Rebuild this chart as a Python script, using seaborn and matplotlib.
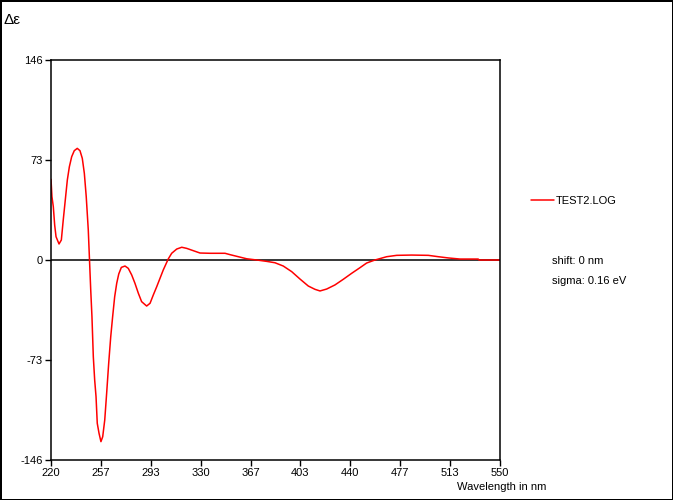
import numpy as np
import pandas as pd
import matplotlib
matplotlib.use('Agg')
import matplotlib.pyplot as plt
import seaborn as sns

# CD spectrum (wavelength in nm, delta epsilon)
wavelength = [220.0, 220.7, 221.7, 222.7, 223.7, 225.9, 227.6, 229.0, 230.5, 232.0,
              233.5, 235.2, 237.1, 239.3, 241.3, 243.0, 244.5, 245.9, 247.4, 248.3,
              249.2, 250.1, 251.1, 252.1, 253.1, 254.0, 255.3, 256.7, 258.0, 259.5,
              260.9, 262.4, 263.9, 265.3, 266.8, 268.3, 269.8, 271.7, 274.4, 276.8,
              279.3, 281.7, 284.2, 286.6, 290.3, 292.8, 295.2, 297.7, 300.1, 302.5,
              306.2, 308.7, 312.4, 316.1, 319.7, 324.6, 329.5, 336.9, 347.9, 351.6,
              357.7, 363.8, 371.2, 378.5, 384.6, 390.7, 396.9, 403.0, 409.1, 414.0,
              417.7, 422.6, 428.7, 434.8, 441.0, 447.1, 452.0, 458.1, 466.7, 474.1,
              485.0, 497.3, 504.7, 512.0, 520.6, 534.0, 534.5, 550.0]
delta_eps = [58.9, 46.2, 38.9, 25.5, 17.0, 11.7, 14.6, 29.2, 43.8, 58.4,
             68.1, 75.4, 79.8, 81.5, 79.8, 74.2, 63.3, 46.2, 21.9, 0.0,
             -21.9, -41.4, -70.6, -87.6, -99.8, -119.2, -126.5, -132.6, -129.0, -116.8,
             -97.3, -75.4, -56.0, -41.4, -26.8, -17.0, -10.2, -5.4, -4.4, -6.1,
             -10.9, -17.0, -24.3, -30.4, -33.6, -31.6, -25.5, -19.5, -13.4, -7.3,
             0.8, 4.9, 8.0, 9.3, 8.5, 6.8, 5.1, 4.9, 4.9, 3.9,
             2.4, 0.9, 0.0, -1.0, -2.0, -4.4, -8.5, -13.9, -19.0, -21.4,
             -22.6, -21.2, -18.2, -14.1, -9.7, -5.6, -2.2, 0.0, 2.4, 3.4,
             3.6, 3.4, 2.4, 1.5, 0.7, 0.7, 0.0, 0.0]

x_ticks = [220, 257, 293, 330, 367, 403, 440, 477, 513, 550]
y_ticks = [146, 73, 0, -73, -146]

df = pd.DataFrame({'Wavelength': wavelength, 'DeltaEps': delta_eps})

sns.set_style('white')
plt.rcParams['font.family'] = ['Liberation Sans', 'DejaVu Sans']
plt.rcParams['text.color'] = 'black'

fig = plt.figure(figsize=(6.73, 5.0), dpi=100)
fig.patch.set_edgecolor('black')
fig.patch.set_linewidth(1.0)
ax = fig.add_axes([51 / 673, 1 - 460 / 500, 449 / 673, 400 / 500])

ax.axhline(0, color='black', lw=1.1, zorder=1)
sns.lineplot(data=df, x='Wavelength', y='DeltaEps', ax=ax, color='red', lw=1.1,
             sort=False, estimator=None, label='TEST2.LOG', zorder=2)

ax.set_xlim(220, 550)
ax.set_ylim(-146, 146)
ax.set_xticks(np.linspace(220, 550, 10))
ax.set_xticklabels([str(t) for t in x_ticks])
ax.set_yticks(y_ticks)
ax.set_yticklabels([str(t) for t in y_ticks])
ax.tick_params(axis='both', direction='out', length=4, width=1, labelsize=8,
               colors='black', pad=2, left=True, bottom=True)
for s in ax.spines.values():
    s.set_color('black')
    s.set_linewidth(1.1)
ax.set_xlabel('')
ax.set_ylabel('')

ax.legend_.remove()
h, l = ax.get_legend_handles_labels()
fig.legend(h, l, loc='center left', bbox_to_anchor=(527 / 673, 1 - 201 / 500),
           frameon=False, fontsize=8, handlelength=2.0, handletextpad=0.15,
           borderaxespad=0)

fig.text(3 / 673, 1 - 20 / 500, 'Δε', fontsize=11, va='center', ha='left')
fig.text(546 / 673, 1 - 487 / 500, 'Wavelength in nm', fontsize=8, va='center', ha='right')
fig.text(552 / 673, 1 - 261 / 500, 'shift: 0 nm', fontsize=8, va='center', ha='left')
fig.text(552 / 673, 1 - 281 / 500, 'sigma: 0.16 eV', fontsize=8, va='center', ha='left')

fig.savefig('out.png', dpi=100, edgecolor=fig.get_edgecolor(), facecolor='white')
